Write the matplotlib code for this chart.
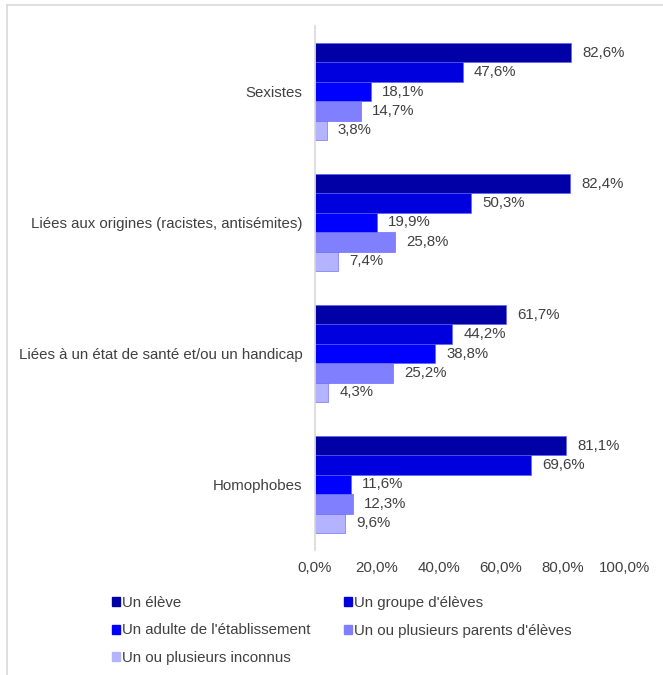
import numpy as np
import matplotlib.pyplot as plt
from matplotlib.patches import Patch
from matplotlib.lines import Line2D

plt.rcParams['font.family'] = ['Liberation Sans', 'DejaVu Sans']

categories = [
    "Sexistes",
    "Liées aux origines (racistes, antisémites)",
    "Liées à un état de santé et/ou un handicap",
    "Homophobes",
]
series = [
    "Un élève",
    "Un groupe d'élèves",
    "Un adulte de l'établissement",
    "Un ou plusieurs parents d'élèves",
    "Un ou plusieurs inconnus",
]
values = [
    [82.6, 82.4, 61.7, 81.1],
    [47.6, 50.3, 44.2, 69.6],
    [18.1, 19.9, 38.8, 11.6],
    [14.7, 25.8, 25.2, 12.3],
    [3.8, 7.4, 4.3, 9.6],
]
colors = ["#0000A6", "#0000DE", "#0000FF", "#8080FF", "#B3B3FF"]
text_color = "#404040"
fs = 10.8

W, H = 663, 675
fig = plt.figure(figsize=(W / 100, H / 100), dpi=100)
ax = fig.add_axes([315 / W, 1 - 550 / H, (625 - 315) / W, (550 - 26) / H])

y = np.arange(len(categories))
bar_h = 0.148
for i, (name, vals) in enumerate(zip(series, values)):
    pos = y + (i - 2) * bar_h
    bars = ax.barh(pos, vals, height=bar_h, color=colors[i], label=name,
                   edgecolor="#5a5aff", linewidth=0.4)
    for b, v in zip(bars, vals):
        ax.annotate(f"{v:.1f}%".replace(".", ","),
                    (b.get_width(), b.get_y() + b.get_height() / 2),
                    xytext=(8, 0), textcoords="offset points",
                    va="center", ha="left", fontsize=fs, color=text_color)

ax.set_ylim(len(categories) - 0.5, -0.5)
ax.set_xlim(0, 100)
ax.set_yticks(y)
ax.set_yticklabels(categories, fontsize=fs, color=text_color)
ax.set_xticks(np.arange(0, 101, 20))
ax.set_xticklabels([f"{t:.1f}%".replace(".", ",") for t in np.arange(0, 101, 20)],
                   fontsize=fs, color=text_color)
ax.tick_params(axis="y", length=0, pad=9)
ax.tick_params(axis="x", length=0, pad=8)
for s in ["top", "right", "bottom"]:
    ax.spines[s].set_visible(False)
ax.spines["left"].set_color("#d9d9d9")
ax.spines["left"].set_linewidth(1.2)

# legend laid out row-wise as in the reference
order = [0, 2, 4, 1, 3]
handles = [Patch(color=colors[k]) for k in order]
labels = [series[k] for k in order]
fig.legend(handles, labels, ncol=2, loc="upper left",
           bbox_to_anchor=(106 / W, 1 - 590 / H), frameon=False,
           fontsize=fs, labelcolor=text_color,
           handlelength=0.55, handleheight=0.55, handletextpad=0.15,
           columnspacing=2.2, labelspacing=0.9, borderaxespad=0)

# outer frame lines
fig.add_artist(Line2D([7 / W, 7 / W], [0, 1 - 5 / H], transform=fig.transFigure,
                      color="#d9d9d9", lw=1.2))
fig.add_artist(Line2D([7 / W, 1], [1 - 5 / H, 1 - 5 / H], transform=fig.transFigure,
                      color="#d9d9d9", lw=1.2))

fig.savefig("out.png", dpi=100, facecolor="white")
